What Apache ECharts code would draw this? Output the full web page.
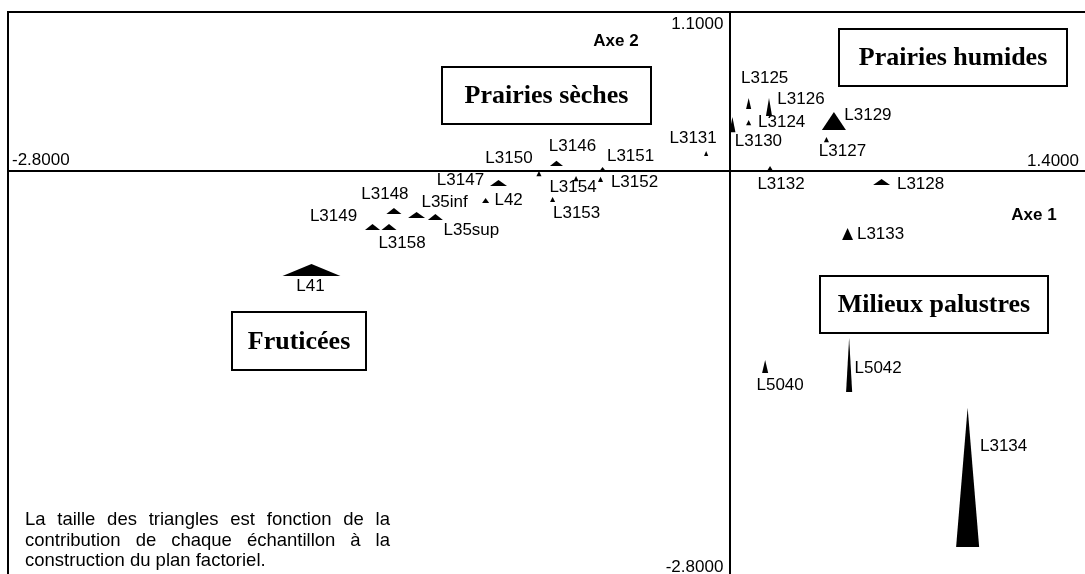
<!DOCTYPE html>
<html>
<head>
<meta charset="utf-8">
<script src="https://cdn.jsdelivr.net/npm/echarts@6/dist/echarts.min.js"></script>
<style>
  html, body { margin: 0; padding: 0; overflow: hidden; background: #fff; }
  #chart { width: 1100px; height: 600px; }
</style>
</head>
<body>
<div id="chart"></div>
<script>
// Samples projected on the first factorial plane (Axe 1 x Axe 2)
const samples = ['L41', 'L3149', 'L3158', 'L3148', 'L35inf', 'L35sup', 'L42', 'L3147',
  'L3150', 'L3146', 'L3154', 'L3153', 'L3151', 'L3152', 'L3131', 'L3125', 'L3126',
  'L3124', 'L3130', 'L3129', 'L3127', 'L3132', 'L3128', 'L3133', 'L5040', 'L5042', 'L3134'];
const axe1 = [-1.622, -1.385, -1.321, -1.302, -1.214, -1.141, -0.946, -0.896,
  -0.739, -0.671, -0.595, -0.686, -0.492, -0.500, -0.090, 0.075, 0.154,
  0.075, 0.012, 0.406, 0.377, 0.158, 0.591, 0.459, 0.139, 0.465, 0.925];
const axe2 = [-0.690, -0.392, -0.392, -0.281, -0.309, -0.323, -0.208, -0.087,
  -0.021, 0.049, -0.056, -0.201, 0.010, -0.062, 0.118, 0.465, 0.441,
  0.333, 0.319, 0.344, 0.215, 0.014, -0.080, -0.441, -1.360, -1.350, -2.130];
// Contributions (%) of each sample to axis 1 (triangle width) and axis 2 (triangle height)
const ctr1 = [18.1, 4.7, 4.7, 4.7, 5.3, 4.7, 2.2, 5.3,
  1.6, 4.1, 1.6, 1.6, 1.9, 1.6, 1.3, 1.6, 1.9,
  1.6, 1.9, 7.5, 1.6, 1.9, 5.3, 3.4, 1.9, 1.9, 7.2];
const ctr2 = [3.0, 1.5, 1.5, 1.5, 1.5, 1.5, 1.3, 1.5,
  1.3, 1.3, 1.3, 1.3, 1.0, 1.3, 1.3, 2.8, 4.5,
  1.3, 3.8, 4.5, 1.3, 1.3, 1.5, 3.0, 3.3, 13.5, 34.8];

// Axis extents and the tick labels written at their ends
const xExtent = [-2.8, 1.4];
const yExtent = [-2.8, 1.1];
const xTickLabels = ['-2.8000', '1.4000'];
const yTickLabels = ['1.1000', '-2.8000'];
const axisNames = ['Axe 1', 'Axe 2'];

const groupNames = ['Prairies sèches', 'Prairies humides', 'Fruticées', 'Milieux palustres'];
const noteLines = [
  'La taille des triangles est fonction de la',
  'contribution de chaque échantillon à la',
  'construction du plan factoriel.'
];

// Layout: where each sample label sits relative to its triangle (px)
const labelOffset = {
  L41: [-1, 16], L3149: [-39, -11], L3158: [13, 16], L3148: [-9, -17], L35inf: [28, -13],
  L35sup: [36, 13], L42: [23, 0], L3147: [-38, -3], L3150: [-30, -15], L3146: [16, -17],
  L3154: [-3, 9], L3153: [24, 14], L3151: [28, -13], L3152: [34, 3], L3131: [-13, -15],
  L3125: [16, -25], L3126: [32, -8], L3124: [33, 0], L3130: [26, 17], L3129: [34, -6],
  L3127: [16, 12], L3132: [11, 16], L3128: [39, 2], L3133: [33, 0], L5040: [15, 19],
  L5042: [29, 3], L3134: [36, -31]
};
// Layout: group boxes [left, top, width, height] in px
const groupBoxes = [[442, 67, 209, 57], [839, 29, 228, 57], [232, 312, 134, 58], [820, 276, 228, 57]];
// Layout: note block (left, first baseline middle, line step, justified width)
const noteBox = { x: 25, y: 520, step: 20.5, width: 365 };

const PX_PER_CTR1 = 3.2;
const PX_PER_CTR2 = 4;
const FONT = '"Liberation Sans", Arial, sans-serif';
const NOTE_FONT = '18.5px ' + FONT;

const points = samples.map((s, i) => [axe1[i], axe2[i], ctr1[i], ctr2[i], s]);

const chart = echarts.init(document.getElementById('chart'), null, { renderer: 'canvas' });

const grid = { left: 8, top: 12, width: 1082, height: 562 };

chart.setOption({
  animation: false,
  backgroundColor: '#fff',
  grid: Object.assign({ show: false }, grid),
  xAxis: {
    type: 'value', min: xExtent[0], max: xExtent[1],
    axisLine: { onZero: true, lineStyle: { color: '#000', width: 2 } },
    axisTick: { show: false }, axisLabel: { show: false }, splitLine: { show: false }
  },
  yAxis: {
    type: 'value', min: yExtent[0], max: yExtent[1],
    axisLine: { onZero: true, lineStyle: { color: '#000', width: 2 } },
    axisTick: { show: false }, axisLabel: { show: false }, splitLine: { show: false }
  },
  series: [{
    type: 'custom',
    data: points,
    clip: false,
    renderItem: function (params, api) {
      const c = api.coord([api.value(0), api.value(1)]);
      const w = api.value(2) * PX_PER_CTR1;
      const h = api.value(3) * PX_PER_CTR2;
      const name = points[params.dataIndex][4];
      const off = labelOffset[name] || [0, 0];
      return {
        type: 'group',
        children: [{
          type: 'polygon',
          shape: { points: [[c[0], c[1] - h / 2], [c[0] + w / 2, c[1] + h / 2], [c[0] - w / 2, c[1] + h / 2]] },
          style: { fill: '#000' }
        }, {
          type: 'text',
          x: c[0] + off[0], y: c[1] + off[1],
          style: {
            text: name, fill: '#000', font: '17px ' + FONT,
            textAlign: 'center', textVerticalAlign: 'middle'
          }
        }]
      };
    }
  }]
});

// Frame (top and left edges), axis end labels, axis names, group boxes and the note
const pMinX = chart.convertToPixel({ gridIndex: 0 }, [xExtent[0], 0]);
const pMaxX = chart.convertToPixel({ gridIndex: 0 }, [xExtent[1], 0]);
const pMaxY = chart.convertToPixel({ gridIndex: 0 }, [0, yExtent[1]]);
const pMinY = chart.convertToPixel({ gridIndex: 0 }, [0, yExtent[0]]);

const txt = (x, y, text, align, font) => ({
  type: 'text', x: x, y: y, z: 10,
  style: { text: text, fill: '#000', font: font || ('17px ' + FONT), textAlign: align, textVerticalAlign: 'middle' }
});

const graphics = [
  {
    type: 'polyline', z: 5,
    shape: { points: [[grid.left, grid.top + grid.height + 10], [grid.left, grid.top], [grid.left + grid.width, grid.top]] },
    style: { stroke: '#000', lineWidth: 2, fill: null }
  },
  txt(pMinX[0] + 4, pMinX[1] - 10, xTickLabels[0], 'left'),
  txt(pMaxX[0] - 11, pMaxX[1] - 9, xTickLabels[1], 'right'),
  txt(pMaxY[0] - 6, pMaxY[1] + 12, yTickLabels[0], 'right'),
  txt(pMinY[0] - 6, pMinY[1] - 7, yTickLabels[1], 'right'),
  txt(1034, 215, axisNames[0], 'center', 'bold 17px ' + FONT),
  txt(616, 41, axisNames[1], 'center', 'bold 17px ' + FONT)
];

groupBoxes.forEach((b, i) => {
  graphics.push({
    type: 'rect', z: 10,
    shape: { x: b[0], y: b[1], width: b[2], height: b[3] },
    style: { fill: '#fff', stroke: '#000', lineWidth: 2 }
  });
  graphics.push(txt(b[0] + b[2] / 2, b[1] + b[3] / 2 + 1, groupNames[i], 'center',
    'bold 26px "Liberation Serif", "Times New Roman", serif'));
});

// Justified note: every line but the last is spread over the full block width
const measure = document.createElement('canvas').getContext('2d');
measure.font = NOTE_FONT;
noteLines.forEach((line, i) => {
  const y = noteBox.y + i * noteBox.step;
  if (i === noteLines.length - 1) {
    graphics.push(txt(noteBox.x, y, line, 'left', NOTE_FONT));
    return;
  }
  const words = line.split(' ');
  const widths = words.map(w => measure.measureText(w).width);
  const used = widths.reduce((a, b) => a + b, 0);
  const gap = (noteBox.width - used) / (words.length - 1);
  let x = noteBox.x;
  words.forEach((w, k) => {
    graphics.push(txt(x, y, w, 'left', NOTE_FONT));
    x += widths[k] + gap;
  });
});

chart.setOption({ graphic: graphics });
</script>
</body>
</html>
